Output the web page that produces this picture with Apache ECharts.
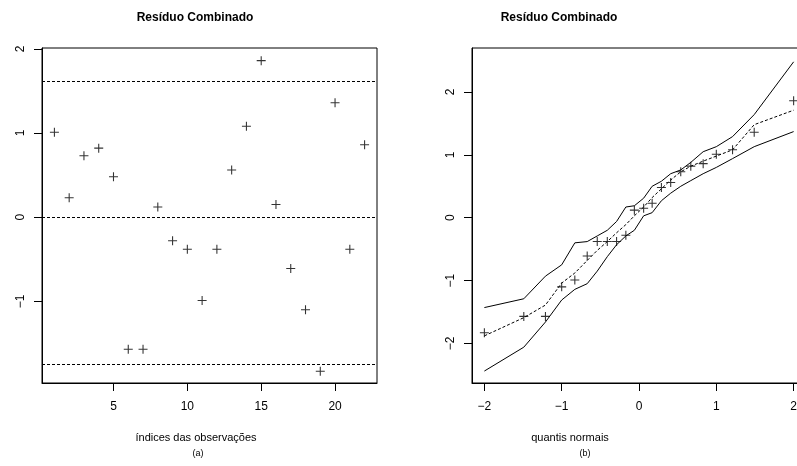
<!DOCTYPE html>
<html>
<head>
<meta charset="utf-8">
<script src="https://cdn.jsdelivr.net/npm/echarts@6/dist/echarts.min.js"></script>
<style>
  html, body { margin: 0; padding: 0; background: #fff; }
  #main { width: 797px; height: 466px; }
</style>
</head>
<body>
<div id="main"></div>
<script>
// painel (a): residuos por indice
var indices = [1, 2, 3, 4, 5, 6, 7, 8, 9, 10, 11, 12, 13, 14, 15, 16, 17, 18, 19, 20, 21, 22];
var residuos = [1.01, 0.23, 0.73, 0.82, 0.48, -1.57, -1.57, 0.12, -0.28, -0.38, -0.99,
                -0.38, 0.56, 1.08, 1.86, 0.15, -0.61, -1.10, -1.83, 1.36, -0.38, 0.86];
var limites = [1.61, 0, -1.75];

// painel (b): envelope simulado
var quantis = [-2.00, -1.49, -1.21, -1.00, -0.83, -0.67, -0.54, -0.41, -0.29, -0.17, -0.06,
               0.06, 0.17, 0.29, 0.41, 0.54, 0.67, 0.83, 1.00, 1.21, 1.49, 2.00];
var ordenados = [-1.83, -1.57, -1.57, -1.10, -0.99, -0.61, -0.38, -0.38, -0.38, -0.28, 0.12,
                 0.15, 0.23, 0.48, 0.56, 0.73, 0.82, 0.86, 1.01, 1.08, 1.36, 1.86];
var envInf = [-2.44, -2.06, -1.66, -1.31, -1.14, -1.05, -0.85, -0.62, -0.43, -0.29, -0.20,
              0.03, 0.08, 0.27, 0.39, 0.50, 0.59, 0.70, 0.80, 0.94, 1.13, 1.37];
var envMed = [-1.88, -1.59, -1.39, -1.04, -0.88, -0.68, -0.52, -0.38, -0.24, -0.11, 0.03,
              0.17, 0.32, 0.46, 0.60, 0.73, 0.82, 0.90, 0.98, 1.08, 1.48, 1.71];
var envSup = [-1.43, -1.29, -0.93, -0.75, -0.40, -0.38, -0.29, -0.20, -0.06, 0.17, 0.19,
              0.31, 0.50, 0.58, 0.70, 0.76, 0.88, 1.05, 1.13, 1.29, 1.64, 2.48];

var xTicksA = [5, 10, 15, 20];
var yTicksA = [-1, 0, 1, 2];
var xTicksB = [-2, -1, 0, 1, 2];
var yTicksB = [-2, -1, 0, 1, 2];

var chartDom = document.getElementById('main');
var myChart = echarts.init(chartDom);
var option;

var fonte = '"Liberation Sans", Arial, sans-serif';
var cruz = 'path://M0,4.4H10V5.6H0Z M4.4,0H5.6V10H4.4Z';

function eixo(grid, min, max, ticks, isY) {
  return {
    type: 'value',
    gridIndex: grid,
    min: min,
    max: max,
    axisLine: { show: true, onZero: false, lineStyle: { color: '#000', width: 1 } },
    axisTick: { show: true, customValues: ticks, length: 8, lineStyle: { color: '#000' } },
    axisLabel: {
      customValues: ticks,
      color: '#000',
      fontFamily: fonte,
      fontSize: 12,
      margin: isY ? 15 : 18,
      rotate: isY ? 90 : 0,
      hideOverlap: false,
      formatter: function (v) { return String(v).replace('-', '\u2212'); }
    },
    splitLine: { show: false }
  };
}

function pares(xs, ys) {
  return xs.map(function (x, i) { return [x, ys[i]]; });
}

function texto(x, y, t, font) {
  return {
    type: 'text', x: x, y: y, silent: true,
    style: { text: t, font: font, fill: '#000', textAlign: 'center', textVerticalAlign: 'middle' }
  };
}

option = {
  animation: false,
  backgroundColor: '#fff',
  grid: [
    { left: 42, width: 335, top: 48, height: 335, outerBoundsMode: 'none', containLabel: false,
      show: true, borderColor: '#000', borderWidth: 1 },
    { left: 472, width: 334, top: 48, height: 335, outerBoundsMode: 'none', containLabel: false,
      show: true, borderColor: '#000', borderWidth: 1 }
  ],
  xAxis: [
    eixo(0, 0.16, 22.84, xTicksA, false),
    eixo(1, -2.16, 2.16, xTicksB, false)
  ],
  yAxis: [
    eixo(0, -1.97, 2.01, yTicksA, true),
    eixo(1, -2.63, 2.70, yTicksB, true)
  ],
  graphic: [
    texto(195, 18, 'Resíduo Combinado', 'bold 12px ' + fonte),
    texto(559, 18, 'Resíduo Combinado', 'bold 12px ' + fonte),
    texto(196, 438, 'índices das observações', '11px ' + fonte),
    texto(198, 454, '(a)', '9px ' + fonte),
    texto(570, 438, 'quantis normais', '11px ' + fonte),
    texto(585, 454, '(b)', '9px ' + fonte)
  ],
  series: [
    {
      type: 'scatter',
      xAxisIndex: 0, yAxisIndex: 0,
      data: pares(indices, residuos),
      symbol: cruz,
      symbolSize: 9,
      itemStyle: { color: '#000' },
      silent: true,
      markLine: {
        silent: true,
        symbol: ['none', 'none'],
        label: { show: false },
        lineStyle: { color: '#000', width: 1, type: [3, 2] },
        data: limites.map(function (v) { return { yAxis: v }; })
      }
    },
    {
      type: 'line', xAxisIndex: 1, yAxisIndex: 1,
      data: pares(quantis, envInf), showSymbol: false, silent: true,
      lineStyle: { color: '#000', width: 1 }
    },
    {
      type: 'line', xAxisIndex: 1, yAxisIndex: 1,
      data: pares(quantis, envSup), showSymbol: false, silent: true,
      lineStyle: { color: '#000', width: 1 }
    },
    {
      type: 'line', xAxisIndex: 1, yAxisIndex: 1,
      data: pares(quantis, envMed), showSymbol: false, silent: true,
      lineStyle: { color: '#000', width: 1, type: [3, 2] }
    },
    {
      type: 'scatter', xAxisIndex: 1, yAxisIndex: 1,
      data: pares(quantis, ordenados),
      symbol: cruz, symbolSize: 9, silent: true,
      itemStyle: { color: '#000' }
    }
  ]
};

option && myChart.setOption(option);
window.addEventListener('resize', function () {
  myChart.resize();
});
</script>
</body>
</html>
